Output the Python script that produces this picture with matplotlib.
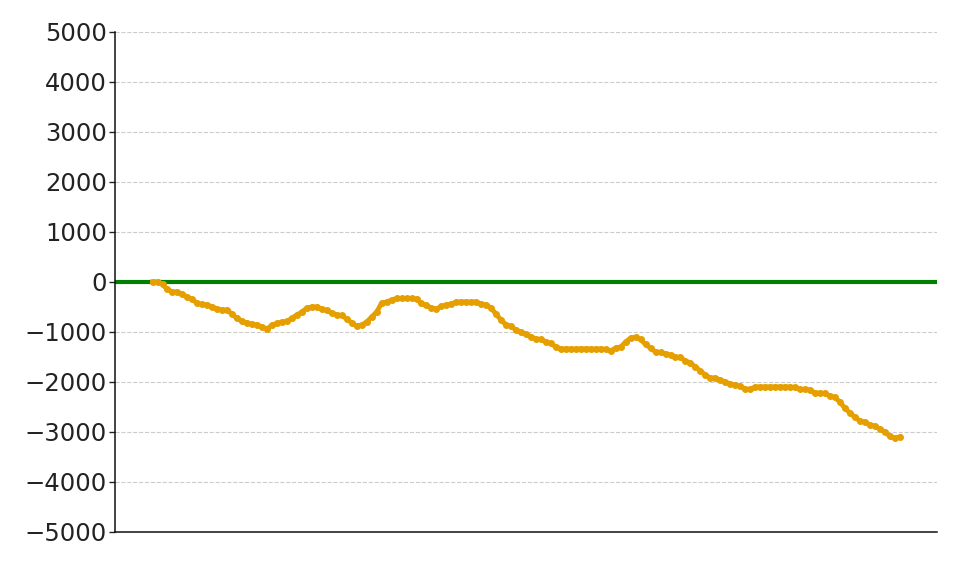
import matplotlib
matplotlib.use("Agg")
import matplotlib.pyplot as plt
import numpy as np

values = [
    0, 0, -50, -150, -200, -200, -250, -300, -350, -430,
    -450, -460, -500, -540, -560, -560, -650, -730, -790, -820,
    -850, -860, -900, -940, -860, -830, -800, -790, -720, -660,
    -600, -520, -500, -500, -550, -570, -620, -660, -670, -740,
    -820, -880, -860, -800, -700, -600, -420, -400, -360, -330,
    -330, -330, -330, -340, -430, -470, -520, -540, -490, -460,
    -440, -400, -400, -400, -400, -400, -440, -460, -520, -650,
    -760, -860, -890, -960, -1010, -1040, -1100, -1140, -1150, -1200,
    -1230, -1300, -1340, -1340, -1340, -1340, -1340, -1340, -1340, -1340,
    -1340, -1350, -1380, -1320, -1300, -1200, -1120, -1110, -1150, -1250,
    -1320, -1400, -1410, -1440, -1460, -1500, -1510, -1580, -1620, -1700,
    -1780, -1860, -1920, -1920, -1960, -2000, -2040, -2060, -2080, -2140,
    -2150, -2100, -2100, -2100, -2100, -2100, -2100, -2100, -2100, -2110,
    -2150, -2150, -2160, -2220, -2220, -2230, -2280, -2310, -2400, -2520,
    -2620, -2700, -2780, -2800, -2860, -2880, -2940, -3000, -3080, -3130,
    -3100,
]
steps = np.arange(len(values))
y_ticks = [-5000, -4000, -3000, -2000, -1000, 0, 1000, 2000, 3000, 4000, 5000]

fig = plt.figure(figsize=(9.6, 5.7), dpi=100)
ax = fig.add_axes([0.12, 0.0667, 0.856, 0.8773])

ax.plot(steps, values, color="#E69F00", linewidth=3.5, marker="o", markersize=4, zorder=3)
ax.axhline(0, color="#007F00", linewidth=3, zorder=2)

ax.set_ylim(-5000, 5000)
ax.set_yticks(y_ticks)
ax.set_xticks([])
ax.tick_params(axis="y", labelsize=17.5, length=4, width=1, pad=2, colors="#222222")
ax.grid(axis="y", linestyle="--", color="#cccccc", linewidth=0.8)
ax.set_axisbelow(True)
ax.spines["top"].set_visible(False)
ax.spines["right"].set_visible(False)
ax.spines["left"].set_color("#111111")
ax.spines["bottom"].set_color("#111111")
ax.spines["left"].set_linewidth(1.1)
ax.spines["bottom"].set_linewidth(1.1)

fig.savefig("out.png", dpi=100)
